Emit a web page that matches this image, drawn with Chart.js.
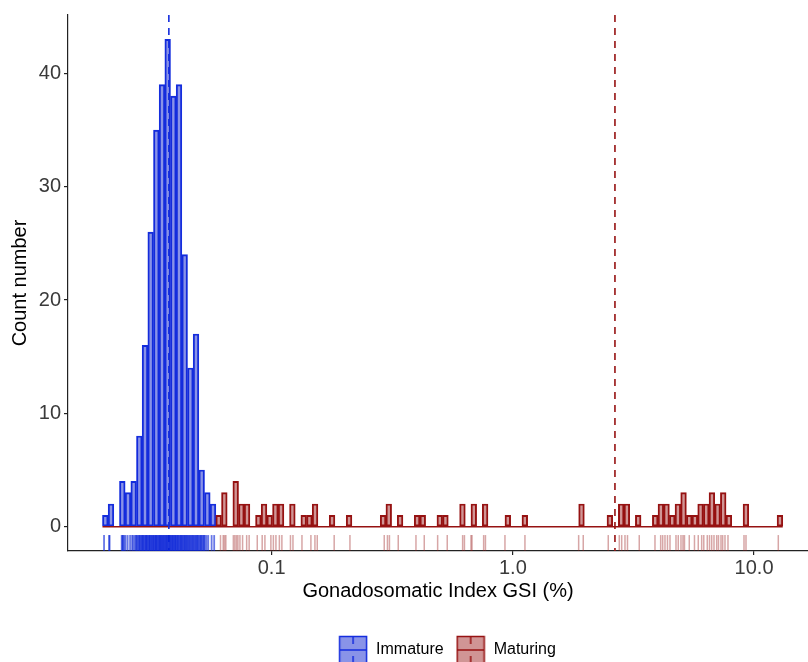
<!DOCTYPE html>
<html>
<head>
<meta charset="utf-8">
<style>
  html, body { margin: 0; padding: 0; background: #fff; }
  #wrap { width: 808px; height: 662px; }
</style>
</head>
<body>
<div id="wrap"><canvas id="gsiChart" width="808" height="662"></canvas></div>

<script src="https://cdn.jsdelivr.net/npm/chart.js"></script>
<script>
// GSI histogram, log10 bins
const groups = ['Immature', 'Maturing'];
const binLow = 0.0199;       // lower edge of the first bin, GSI (%)
const binLogWidth = 0.0235;  // bin width in log10 units

const immatureCounts = [1, 2, 0, 4, 3, 4, 8, 16, 26, 35, 39, 43, 38, 39, 24, 14, 17, 5, 3, 2];

const maturingFirstBin = 20;
const maturingCounts = [
  1, 3, 0, 4, 2, 2, 0, 1, 2, 1,
  2, 2, 0, 2, 0, 1, 1, 2, 0, 0,
  1, 0, 0, 1, 0, 0, 0, 0, 0, 1,
  2, 0, 1, 0, 0, 1, 1, 0, 0, 1,
  1, 0, 0, 2, 0, 2, 0, 2, 0, 0,
  0, 1, 0, 0, 1, 0, 0, 0, 0, 0,
  0, 0, 0, 0, 2, 0, 0, 0, 0, 1,
  0, 2, 2, 0, 1, 0, 0, 1, 2, 2,
  1, 2, 3, 1, 1, 2, 2, 3, 2, 3,
  1, 0, 0, 2, 0, 0, 0, 0, 0, 1
];

// group means (dashed lines)
const immatureMean = 0.0375;
const maturingMean = 2.65;

// individual fish, GSI (%)
const immatureRug = [
  0.0202, 0.0212, 0.0213, 0.0239, 0.0241, 0.0242, 0.0245, 0.0248, 0.0253, 0.0259,
  0.0264, 0.0267, 0.0271, 0.0274,
  0.0276, 0.0278, 0.0281, 0.0283, 0.0284, 0.0287, 0.0289, 0.0291, 0.0293, 0.0294,
  0.0297, 0.0299, 0.0301, 0.0303, 0.0304, 0.0306, 0.0309, 0.0311, 0.0312, 0.0314,
  0.0317, 0.0318, 0.0321, 0.0323, 0.0324, 0.0327, 0.0329, 0.0331, 0.0333, 0.0334,
  0.0337, 0.0339, 0.0342, 0.0343, 0.0345, 0.0348, 0.0349, 0.0352, 0.0354, 0.0356,
  0.0358, 0.0361, 0.0363, 0.0365, 0.0368, 0.0369, 0.0372, 0.0375, 0.0377, 0.0379,
  0.0382, 0.0384, 0.0387, 0.0389, 0.0391, 0.0394, 0.0397, 0.0399, 0.0401, 0.0404,
  0.0407, 0.0409, 0.0412, 0.0415, 0.0418, 0.0421, 0.0423, 0.0426, 0.0429, 0.0433,
  0.0436, 0.0438, 0.0442, 0.0445, 0.0448, 0.0451, 0.0455, 0.0458, 0.0462, 0.0465,
  0.0469, 0.0472, 0.0476, 0.0480, 0.0484, 0.0487, 0.0491, 0.0495, 0.0498,
  0.0504, 0.0507, 0.0511, 0.0515, 0.0521, 0.0524, 0.0529, 0.0537, 0.0546, 0.0564, 0.0578
];
const maturingRug = [
  0.0614, 0.0630, 0.0638, 0.0646, 0.0694, 0.0704, 0.0715, 0.0725, 0.0739, 0.0758,
  0.0788, 0.0807, 0.0872, 0.0914, 0.0938, 0.0993, 0.1017, 0.1042, 0.1077, 0.1103,
  0.1197, 0.1226, 0.1336, 0.1455, 0.1512, 0.1546, 0.1817, 0.2112, 0.2930, 0.3021,
  0.3079, 0.3349, 0.3966, 0.4293, 0.4878, 0.5346, 0.6192, 0.6300, 0.6706, 0.6770,
  0.7567, 0.7698, 0.9274, 1.1224, 1.874, 1.958, 2.486, 2.762, 2.826, 2.916,
  2.987, 3.342, 3.883, 4.100, 4.179, 4.272, 4.375, 4.481, 4.745, 4.850,
  4.977, 5.073, 5.146, 5.387, 5.661, 5.870, 6.064, 6.187, 6.397, 6.533,
  6.672, 6.820, 6.998, 7.119, 7.291, 7.410, 7.575, 7.795, 9.082, 9.257, 12.60
];

const gsiTicks = [0.1, 1, 10];
const gsiTickLabels = ['0.1', '1.0', '10.0'];
const countTicks = [0, 10, 20, 30, 40];

// colours
const blueLine = 'rgb(20, 45, 222)';
const blueFill = 'rgba(20, 40, 210, 0.5)';
const redLine = 'rgb(150, 18, 18)';
const redFill = 'rgba(150, 20, 20, 0.45)';

Chart.defaults.font.family = '"Liberation Sans", Arial, sans-serif';

const logLow = Math.log10(binLow);
const binCentre = i => logLow + (i + 0.5) * binLogWidth;
const nBins = maturingFirstBin + maturingCounts.length;

const immatureBars = immatureCounts.map((c, i) => ({x: binCentre(i), y: c}));
const maturingBars = maturingCounts.map((c, i) => ({x: binCentre(i + maturingFirstBin), y: c}));

const maxCount = Math.max(...immatureCounts, ...maturingCounts);
const yMax = maxCount * 1.05;
const yMin = -maxCount * 0.05;
const rugY = yMin + 0.7;

const rugPoints = vals => vals.map(v => ({x: Math.log10(v), y: rugY}));
const meanLine = m => [{x: Math.log10(m), y: yMax}, {x: Math.log10(m), y: yMin}];

// legend key: filled box with outline, zero line and rug ticks
function legendKey(fill, stroke) {
  const c = document.createElement('canvas');
  c.width = 30; c.height = 30;
  const g = c.getContext('2d');
  g.fillStyle = '#fff';
  g.fillRect(0, 0, 30, 30);
  g.fillStyle = fill;
  g.fillRect(1, 1, 28, 28);
  g.strokeStyle = stroke;
  g.lineWidth = 1.5;
  g.strokeRect(1.5, 1.5, 27, 27);
  g.beginPath();
  g.moveTo(2, 15); g.lineTo(28, 15);
  g.moveTo(15, 2); g.lineTo(15, 9);
  g.moveTo(15, 21); g.lineTo(15, 28);
  g.stroke();
  return c;
}

// centre the legend under the panel rather than the canvas
const legendShift = {
  id: 'legendShift',
  afterLayout(chart) {
    const lg = chart.legend;
    const area = chart.chartArea;
    const dx = (area.left + area.right) / 2 + 9 - (lg.left + lg.right) / 2;
    lg.left += dx;
    lg.right += dx;
  }
};

new Chart(document.getElementById('gsiChart'), {
  type: 'bar',
  data: {
    datasets: [
      {
        label: groups[0],
        data: immatureBars,
        backgroundColor: blueFill,
        borderColor: blueLine,
        borderWidth: 1.3,
        borderSkipped: false,
        grouped: false,
        categoryPercentage: 1,
        barPercentage: 1,
        order: 6
      },
      {
        label: groups[1],
        data: maturingBars,
        backgroundColor: redFill,
        borderColor: redLine,
        borderWidth: 1.3,
        borderSkipped: false,
        grouped: false,
        categoryPercentage: 1,
        barPercentage: 1,
        order: 5
      },
      {
        type: 'line',
        label: 'zero',
        data: [{x: logLow, y: 0}, {x: logLow + nBins * binLogWidth, y: 0}],
        borderColor: redLine,
        borderWidth: 1.5,
        pointRadius: 0,
        order: 4
      },
      {
        type: 'line',
        label: 'immature mean',
        data: meanLine(immatureMean),
        borderColor: blueLine,
        borderWidth: 1.6,
        borderDash: [7, 6],
        pointRadius: 0,
        order: 3
      },
      {
        type: 'line',
        label: 'maturing mean',
        data: meanLine(maturingMean),
        borderColor: redLine,
        borderWidth: 1.6,
        borderDash: [7, 6],
        pointRadius: 0,
        order: 2
      },
      {
        type: 'scatter',
        label: 'immature rug',
        data: rugPoints(immatureRug),
        pointStyle: 'line',
        pointRotation: 90,
        pointRadius: 8,
        pointBorderWidth: 1.8,
        pointBorderColor: 'rgba(10, 35, 215, 0.62)',
        order: 1
      },
      {
        type: 'scatter',
        label: 'maturing rug',
        data: rugPoints(maturingRug),
        pointStyle: 'line',
        pointRotation: 90,
        pointRadius: 8,
        pointBorderWidth: 1.5,
        pointBorderColor: 'rgba(150, 20, 20, 0.38)',
        order: 0
      }
    ]
  },
  options: {
    responsive: false,
    animation: false,
    events: [],
    layout: { autoPadding: false, padding: { top: 14, right: 0, bottom: -6, left: 0 } },
    scales: {
      x: {
        type: 'linear',
        offset: false,
        min: Math.log10(0.01432),
        max: Math.log10(16.73),
        afterBuildTicks: s => { s.ticks = gsiTicks.map(v => ({value: Math.log10(v)})); },
        afterFit: s => { s.height = 79; s.paddingLeft = 0; s.paddingRight = 0; },
        grid: { display: true, offset: false, drawOnChartArea: false, drawTicks: true, tickLength: 4, color: '#222', lineWidth: 1.2 },
        border: { display: true, color: '#222', width: 1.2 },
        ticks: {
          padding: 1,
          color: '#3a3a3a',
          font: { size: 20 },
          maxRotation: 0,
          callback: (v, i) => gsiTickLabels[i]
        },
        title: {
          display: true,
          text: 'Gonadosomatic Index GSI (%)',
          color: '#000',
          font: { size: 20 },
          padding: { top: 0, bottom: 27 }
        }
      },
      y: {
        type: 'linear',
        min: yMin,
        max: yMax,
        afterBuildTicks: s => { s.ticks = countTicks.map(v => ({value: v})); },
        afterFit: s => { s.width = 68; },
        grid: { display: true, drawOnChartArea: false, drawTicks: true, tickLength: 4, color: '#222', lineWidth: 1.2 },
        border: { display: true, color: '#222', width: 1.2 },
        ticks: {
          padding: 3,
          color: '#3a3a3a',
          font: { size: 20 }
        },
        title: {
          display: true,
          text: 'Count number',
          color: '#000',
          font: { size: 20 },
          padding: { top: 8, bottom: 0 }
        }
      }
    },
    plugins: {
      tooltip: { enabled: false },
      legend: {
        position: 'bottom',
        labels: {
          usePointStyle: true,
          pointStyleWidth: 30,
          padding: 12,
          color: '#000',
          font: { size: 16 },
          generateLabels: () => [
            { text: groups[0], pointStyle: legendKey(blueFill, blueLine), fillStyle: blueFill, strokeStyle: blueLine, lineWidth: 0, datasetIndex: 0 },
            { text: groups[1], pointStyle: legendKey(redFill, redLine), fillStyle: redFill, strokeStyle: redLine, lineWidth: 0, datasetIndex: 1 }
          ]
        }
      }
    }
  },
  plugins: [legendShift]
});
</script>
</body>
</html>
